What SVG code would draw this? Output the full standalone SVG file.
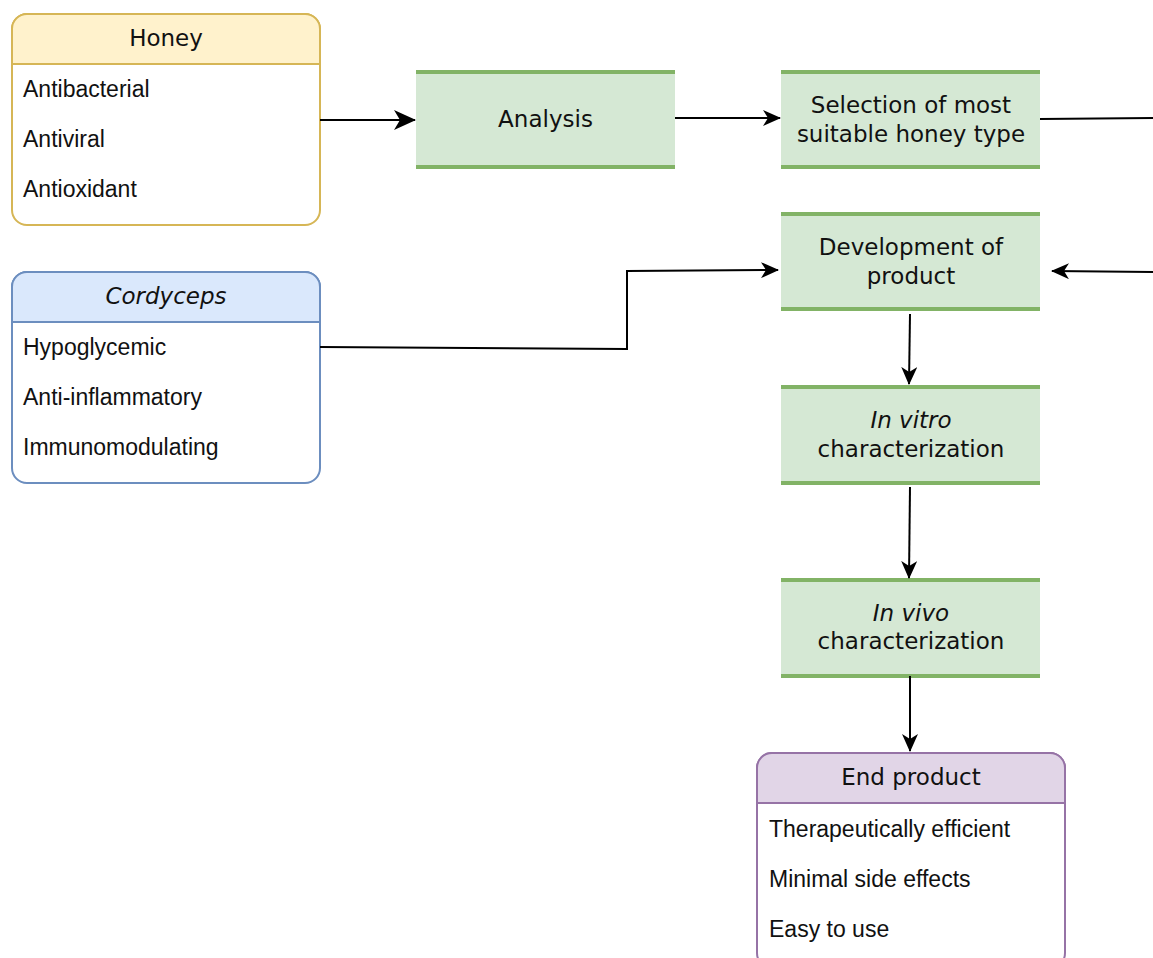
<svg xmlns="http://www.w3.org/2000/svg" width="1153" height="958" viewBox="0 0 1153 958">
<style>
.bg{fill:#ffffff}
.card{fill:#ffffff;stroke-width:2}
.hdr{stroke-width:2}
.honey .card,.honey .hdr{stroke:#d6b656}
.honey .hdr{fill:#fff2cc}
.cord .card,.cord .hdr{stroke:#6c8ebf}
.cord .hdr{fill:#dae8fc}
.endp .card,.endp .hdr{stroke:#9673a6}
.endp .hdr{fill:#e1d5e7}
.gfill{fill:#d5e8d4}
.gline{stroke:#82b366;stroke-width:4}
.ttl{font-family:"DejaVu Sans",Verdana,sans-serif;font-size:23px;fill:#111;text-anchor:middle}
.item{font-family:"Liberation Sans",Arial,sans-serif;font-size:23px;fill:#111}
.it{font-style:italic}
.conn path{fill:none;stroke:#000;stroke-width:2;marker-end:url(#arr)}
</style>
<defs>
<marker id="arr" viewBox="0 0 18 16" refX="17" refY="8" markerWidth="18" markerHeight="16" markerUnits="userSpaceOnUse" orient="auto">
<path d="M18,8 L0,0 L5,8 L0,16 Z" fill="#000"/>
</marker>
<marker id="arrL" viewBox="0 0 22 20" refX="21" refY="10" markerWidth="22" markerHeight="20" markerUnits="userSpaceOnUse" orient="auto">
<path d="M22,10 L0,0 L6,10 L0,20 Z" fill="#000"/>
</marker>
</defs>
<rect class="bg" x="0" y="0" width="1153" height="958"/>

<g id="honey" class="honey">
<rect class="card" x="12" y="14" width="308" height="211" rx="15" ry="15"/>
<path class="hdr" d="M12,64 V29 A15,15 0 0 1 27,14 H305 A15,15 0 0 1 320,29 V64 Z"/>
<text class="ttl" x="166" y="46">Honey</text>
<text class="item" x="23" y="97">Antibacterial</text>
<text class="item" x="23" y="147">Antiviral</text>
<text class="item" x="23" y="197">Antioxidant</text>
</g>

<g id="cordyceps" class="cord">
<rect class="card" x="12" y="272" width="308" height="211" rx="15" ry="15"/>
<path class="hdr" d="M12,322 V287 A15,15 0 0 1 27,272 H305 A15,15 0 0 1 320,287 V322 Z"/>
<text class="ttl it" x="166" y="304">Cordyceps</text>
<text class="item" x="23" y="355">Hypoglycemic</text>
<text class="item" x="23" y="405">Anti-inflammatory</text>
<text class="item" x="23" y="455">Immunomodulating</text>
</g>

<g id="analysis">
<rect class="gfill" x="416" y="72" width="259" height="96"/>
<line class="gline" x1="416" y1="72" x2="675" y2="72"/>
<line class="gline" x1="416" y1="167" x2="675" y2="167"/>
<text class="ttl" x="545.5" y="127">Analysis</text>
</g>

<g id="selection">
<rect class="gfill" x="781" y="72" width="259" height="96"/>
<line class="gline" x1="781" y1="72" x2="1040" y2="72"/>
<line class="gline" x1="781" y1="167" x2="1040" y2="167"/>
<text class="ttl" x="911" y="113">Selection of most</text>
<text class="ttl" x="911" y="142">suitable honey type</text>
</g>

<g id="development">
<rect class="gfill" x="781" y="214" width="259" height="96"/>
<line class="gline" x1="781" y1="214" x2="1040" y2="214"/>
<line class="gline" x1="781" y1="309" x2="1040" y2="309"/>
<text class="ttl" x="911" y="255">Development of</text>
<text class="ttl" x="911" y="284">product</text>
</g>

<g id="invitro">
<rect class="gfill" x="781" y="387" width="259" height="96"/>
<line class="gline" x1="781" y1="387" x2="1040" y2="387"/>
<line class="gline" x1="781" y1="483" x2="1040" y2="483"/>
<text class="ttl it" x="911" y="428">In vitro</text>
<text class="ttl" x="911" y="457">characterization</text>
</g>

<g id="invivo">
<rect class="gfill" x="781" y="580" width="259" height="96"/>
<line class="gline" x1="781" y1="580" x2="1040" y2="580"/>
<line class="gline" x1="781" y1="676" x2="1040" y2="676"/>
<text class="ttl it" x="911" y="621">In vivo</text>
<text class="ttl" x="911" y="649">characterization</text>
</g>

<g id="endproduct" class="endp">
<rect class="card" x="757" y="753" width="308" height="215" rx="15" ry="15"/>
<path class="hdr" d="M757,803 V768 A15,15 0 0 1 772,753 H1050 A15,15 0 0 1 1065,768 V803 Z"/>
<text class="ttl" x="911" y="785">End product</text>
<text class="item" x="769" y="837">Therapeutically efficient</text>
<text class="item" x="769" y="887">Minimal side effects</text>
<text class="item" x="769" y="937">Easy to use</text>
</g>

<g id="connectors" class="conn">
<path d="M320,120 L415,120" style="marker-end:url(#arrL)"/>
<path d="M675,118 L780,118"/>
<path d="M1040,119 L1160,118" style="marker-end:none"/>
<path d="M1160,272 L1052,271"/>
<path d="M320,347 L627,349 L627,271 L778,270"/>
<path d="M910,314 L909,384"/>
<path d="M910,487 L909,578"/>
<path d="M910,676 L910,751"/>
</g>
</svg>
